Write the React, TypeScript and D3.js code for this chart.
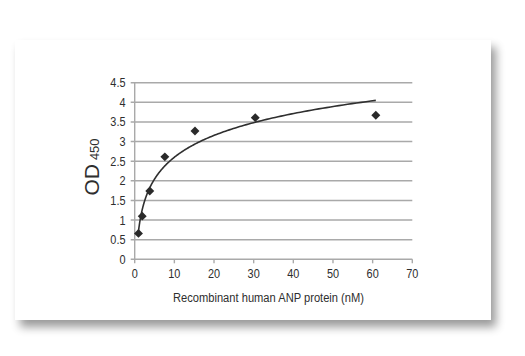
import React from "react";
import * as d3 from "d3";

const concentrations = [0.95, 1.9, 3.8, 7.6, 15.2, 30.4, 60.8];
const odValues = [0.66, 1.1, 1.74, 2.61, 3.27, 3.61, 3.67];
const xTicks = [0, 10, 20, 30, 40, 50, 60, 70];
const yTicks = [0, 0.5, 1, 1.5, 2, 2.5, 3, 3.5, 4, 4.5];
const xTitle = "Recombinant human ANP protein (nM)";

const W = 525;
const H = 356;
const FONT = "'Liberation Sans', Arial, sans-serif";
const SQ = 0.84; // horizontal squeeze to mimic a narrow face

export default function App() {
  const x = d3.scaleLinear().domain([0, 70]).range([134.7, 412.3]);
  const y = d3.scaleLinear().domain([0, 4.5]).range([259.3, 82.7]);

  // logarithmic trendline (least squares on ln x)
  const lx = concentrations.map((c) => Math.log(c));
  const mx = d3.mean(lx) as number;
  const my = d3.mean(odValues) as number;
  let sxy = 0, sxx = 0;
  lx.forEach((v, i) => {
    sxy += (v - mx) * (odValues[i] - my);
    sxx += (v - mx) * (v - mx);
  });
  const a = sxy / sxx;
  const b = my - a * mx;
  const x0 = concentrations[0];
  const x1 = concentrations[concentrations.length - 1];
  const samples = d3.range(0, 201).map((i) => x0 * Math.pow(x1 / x0, i / 200));
  const line = d3
    .line<number>()
    .x((c) => x(c))
    .y((c) => y(a * Math.log(c) + b));

  const marker = d3.symbol().type(d3.symbolSquare).size(40)() as string;

  const gridColor = "#a9a9a9";
  const textColor = "#2e2e2e";

  return (
    <svg width={W} height={H} style={{ position: "absolute", left: 0, top: 0, background: "#ffffff" }}>
      <defs>
        <filter id="shadow" x="-10%" y="-10%" width="125%" height="135%">
          <feGaussianBlur in="SourceAlpha" stdDeviation="5" />
          <feOffset dx="5" dy="7" result="blur" />
          <feComponentTransfer>
            <feFuncA type="linear" slope="0.4" />
          </feComponentTransfer>
          <feMerge>
            <feMergeNode />
            <feMergeNode in="SourceGraphic" />
          </feMerge>
        </filter>
      </defs>
      <rect x={15} y={40} width={476} height={280} fill="#ffffff" filter="url(#shadow)" />

      {/* gridlines and y ticks */}
      {yTicks.map((t) => (
        <line
          key={"g" + t}
          x1={x(0) - 4}
          x2={x(70)}
          y1={y(t)}
          y2={y(t)}
          stroke={gridColor}
          strokeWidth={1.4}
        />
      ))}
      {/* y axis */}
      <line x1={x(0)} x2={x(0)} y1={y(4.5)} y2={y(0)} stroke={gridColor} strokeWidth={1.4} />
      {/* x ticks */}
      {xTicks.map((t) => (
        <line key={"xt" + t} x1={x(t)} x2={x(t)} y1={y(0)} y2={y(0) + 4} stroke={gridColor} strokeWidth={1.4} />
      ))}

      {/* y tick labels */}
      {yTicks.map((t) => (
        <text
          key={"yl" + t}
          transform={`translate(125.5,${y(t) + 4.5}) scale(${SQ},1)`}
          textAnchor="end"
          fontFamily={FONT}
          fontSize={13}
          fill={textColor}
        >
          {String(t)}
        </text>
      ))}
      {/* x tick labels */}
      {xTicks.map((t) => (
        <text
          key={"xl" + t}
          transform={`translate(${x(t)},277.5) scale(${SQ},1)`}
          textAnchor="middle"
          fontFamily={FONT}
          fontSize={13}
          fill={textColor}
        >
          {String(t)}
        </text>
      ))}

      {/* trendline */}
      <path d={line(samples) as string} fill="none" stroke="#2f2f2f" strokeWidth={1.6} />

      {/* markers */}
      {concentrations.map((c, i) => (
        <path
          key={"m" + i}
          d={marker}
          transform={`translate(${x(c)},${y(odValues[i])}) rotate(45)`}
          fill="#2a2a2a"
        />
      ))}

      {/* axis titles */}
      <text
        x={268.5}
        y={301.5}
        textAnchor="middle"
        fontFamily={FONT}
        fontSize={12.5}
        fill={textColor}
        textLength={191}
        lengthAdjust="spacingAndGlyphs"
      >
        {xTitle}
      </text>
      <text
        transform="translate(98.5,167) rotate(-90)"
        textAnchor="middle"
        fontFamily={FONT}
        fill={textColor}
      >
        <tspan fontSize={21}>OD</tspan>
        <tspan fontSize={13} dx={4}>450</tspan>
      </text>
    </svg>
  );
}
